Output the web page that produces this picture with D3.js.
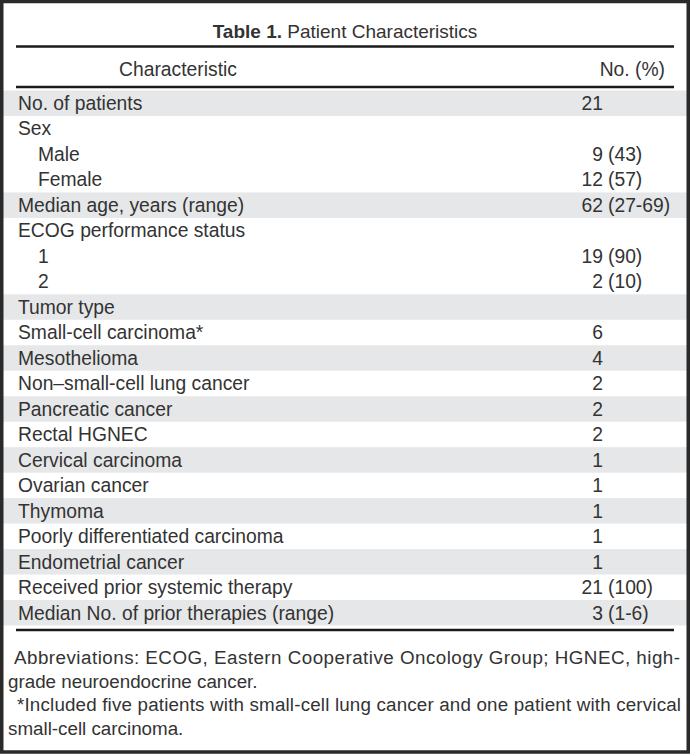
<!DOCTYPE html>
<html><head><meta charset="utf-8">
<script src="https://cdn.jsdelivr.net/npm/d3@7"></script>
<style>
html,body{margin:0;padding:0;background:#fff;}
svg text{font-family:"Liberation Sans",Arial,Helvetica,sans-serif;fill:#333;}
</style></head><body>
<svg id="c" width="690" height="755"></svg>
<script>
const titleBold = "Table 1.";
const titleRest = "Patient Characteristics";
const headers = ["Characteristic", "No. (%)"];
const labels = ["No. of patients","Sex","Male","Female","Median age, years (range)","ECOG performance status","1","2","Tumor type","Small-cell carcinoma*","Mesothelioma","Non\u2013small-cell lung cancer","Pancreatic cancer","Rectal HGNEC","Cervical carcinoma","Ovarian cancer","Thymoma","Poorly differentiated carcinoma","Endometrial cancer","Received prior systemic therapy","Median No. of prior therapies (range)"];
const counts = ["21","","9","12","62","","19","2","","6","4","2","2","2","1","1","1","1","1","21","3"];
const extras = ["","","(43)","(57)","(27-69)","","(90)","(10)","","","","","","","","","","","","(100)","(1-6)"];
const indented = [0,0,1,1,0,0,1,1,0,0,0,0,0,0,0,0,0,0,0,0,0];
const group = [0,1,1,1,2,3,3,3,4,5,6,7,8,9,10,11,12,13,14,15,16];
const footnotes = [
  {t:"Abbreviations: ECOG, Eastern Cooperative Oncology Group; HGNEC, high-", x:14, justify:680},
  {t:"grade neuroendocrine cancer.", x:8, justify:0},
  {t:"*Included five patients with small-cell lung cancer and one patient with cervical", x:17, justify:681},
  {t:"small-cell carcinoma.", x:8, justify:0}
];

const W = 690, H = 755;
const svg = d3.select("#c");
const fs = 19.3;

svg.append("rect").attr("x",0).attr("y",0).attr("width",W).attr("height",H)
  .attr("fill","#fff");

const rowIdx = d3.range(labels.length);
const y = d3.scaleBand().domain(rowIdx).range([90.5, 625.5]).padding(0);

// shaded bands
svg.append("g").selectAll("rect").data(rowIdx.filter(i=>group[i]%2===0)).join("rect")
  .attr("x",3).attr("width",W-6)
  .attr("y",i=>y(i)).attr("height",y.bandwidth())
  .attr("fill","#e6e7e8");

// title
const tt = svg.append("text").attr("x",345).attr("y",37.5).attr("text-anchor","middle").style("font-size","19px");
tt.append("tspan").attr("font-weight","bold").text(titleBold);
tt.append("tspan").text(" " + titleRest);

// rules
const rule = (yy)=>svg.append("line").attr("x1",16).attr("x2",674).attr("y1",yy).attr("y2",yy)
  .attr("stroke","#1a1a1a").attr("stroke-width",2.5);
rule(46.5); rule(87); rule(630);

// headers
svg.append("text").attr("x",178).attr("y",75.5).attr("text-anchor","middle").style("font-size",fs+"px").text(headers[0]);
svg.append("text").attr("x",665).attr("y",75.5).attr("text-anchor","end").style("font-size",fs+"px").text(headers[1]);

// rows
const rows = svg.append("g").selectAll("g").data(rowIdx).join("g")
  .attr("transform",i=>`translate(0,${y(i)+y.bandwidth()/2})`);
rows.append("text").attr("x",i=>indented[i]?38:18).attr("dy","0.35em")
  .style("font-size",fs+"px").text(i=>labels[i]);
rows.append("text").attr("x",603).attr("dy","0.35em").attr("text-anchor","end")
  .style("font-size",fs+"px").text(i=>counts[i]);
rows.append("text").attr("x",608).attr("dy","0.35em")
  .style("font-size",fs+"px").text(i=>extras[i]);

// footnotes
const fy = [664, 687.5, 711, 734.5];
footnotes.forEach((f,i)=>{
  const t = svg.append("text").attr("x",f.x).attr("y",fy[i]).style("font-size","18.8px").text(f.t);
  if(f.justify){ t.attr("textLength",f.justify-f.x).attr("lengthAdjust","spacing"); }
});

// frame
svg.append("rect").attr("x",1.75).attr("y",1.5).attr("width",W-3.5).attr("height",H-4.5)
  .attr("fill","none").attr("stroke","#2a2a2a").attr("stroke-width",3.5);
</script></body></html>
